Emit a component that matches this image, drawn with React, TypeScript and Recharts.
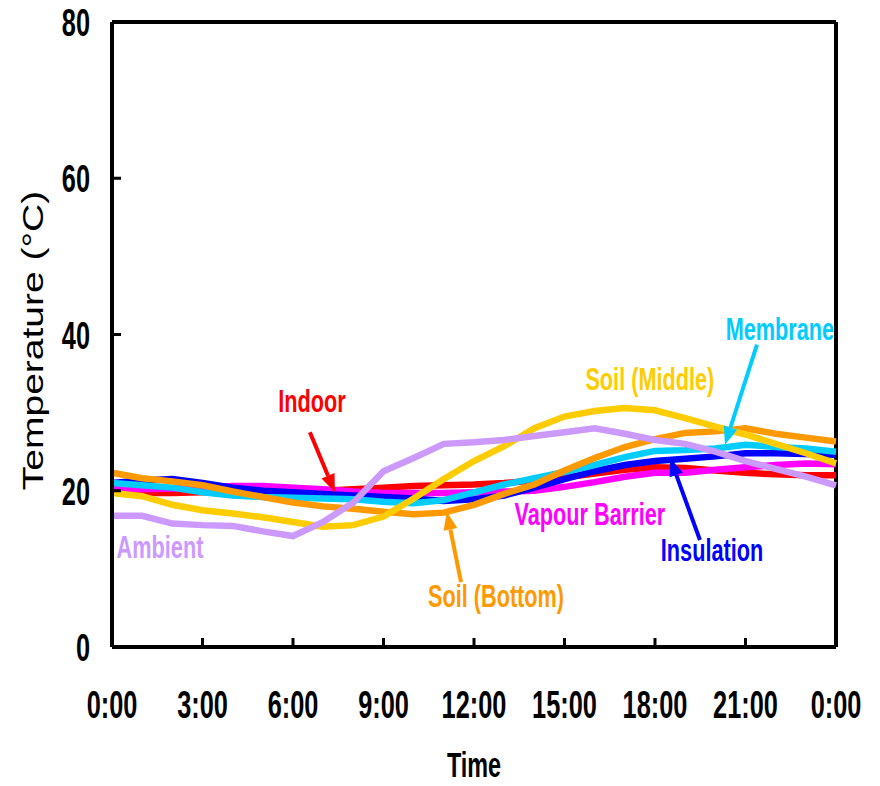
import React from 'react';
import { LineChart, Line, XAxis, YAxis, ReferenceLine, ReferenceDot } from 'recharts';

const hours = [0,1,2,3,4,5,6,7,8,9,10,11,12,13,14,15,16,17,18,19,20,21,22,23,24];
const xTicks = [0,3,6,9,12,15,18,21,24];
const xTickLabels = ['0:00','3:00','6:00','9:00','12:00','15:00','18:00','21:00','0:00'];
const yTicks = [0,20,40,60,80];

const indoor = [19.8,19.7,19.7,19.8,19.8,19.8,19.9,20.0,20.2,20.4,20.6,20.7,20.8,21.0,21.3,21.7,22.2,22.7,23.0,22.9,22.6,22.3,22.1,22.0,22.0];
const vapourBarrier = [20.2,20.2,20.3,20.4,20.6,20.6,20.4,20.2,19.9,19.7,19.7,19.7,19.8,19.9,20.0,20.5,21.1,21.8,22.3,22.3,22.7,23.0,23.3,23.5,23.4];
const insulation = [21.0,21.3,21.5,21.0,20.4,20.0,19.8,19.6,19.4,19.2,19.0,18.7,18.9,19.4,20.4,21.5,22.5,23.3,23.8,24.1,24.4,24.8,24.8,24.7,24.6];
const membrane = [21.0,20.7,20.4,19.8,19.4,19.2,19.1,19.0,18.9,18.6,18.4,18.8,19.8,20.8,21.6,22.4,23.3,24.3,25.1,25.2,25.4,25.9,25.6,25.4,25.0];
const soilBottom = [22.3,21.6,21.2,20.7,19.9,19.2,18.5,18.0,17.7,17.3,17.0,17.2,18.2,19.6,20.8,22.6,24.2,25.6,26.6,27.4,27.6,28.0,27.3,26.8,26.3];
const soilMiddle = [19.7,19.3,18.2,17.5,17.1,16.6,16.0,15.4,15.6,16.7,19.0,21.5,23.8,25.7,28.0,29.5,30.2,30.6,30.3,29.3,28.2,27.2,26.0,24.8,23.5];
const ambient = [16.8,16.8,15.8,15.6,15.5,14.8,14.2,16.0,18.5,22.5,24.2,26.0,26.2,26.5,27.0,27.5,28.0,27.3,26.5,26.0,25.0,23.8,22.8,21.8,20.7];

const data = hours.map((h, i) => ({
  h,
  indoor: indoor[i],
  vapour: vapourBarrier[i],
  insulation: insulation[i],
  membrane: membrane[i],
  soilBottom: soilBottom[i],
  soilMiddle: soilMiddle[i],
  ambient: ambient[i],
}));

const C = {
  indoor: '#FF0000',
  vapour: '#FF00FF',
  insulation: '#0000FF',
  membrane: '#00CCFF',
  soilBottom: '#FF9900',
  soilMiddle: '#FFCC00',
  ambient: '#CC99FF',
};

const FONT = "'Liberation Sans', Arial, sans-serif";

const labels = [
  { text: 'Indoor', x: 6.63, y: 31.4, color: C.indoor },
  { text: 'Soil (Middle)', x: 17.83, y: 34.2, color: C.soilMiddle },
  { text: 'Membrane', x: 22.14, y: 40.6, color: C.membrane },
  { text: 'Vapour Barrier', x: 15.84, y: 16.9, color: C.vapour },
  { text: 'Insulation', x: 19.89, y: 12.4, color: C.insulation },
  { text: 'Soil (Bottom)', x: 12.73, y: 6.4, color: C.soilBottom },
  { text: 'Ambient', x: 1.59, y: 12.7, color: C.ambient },
];

const arrows = [
  { from: { x: 6.56, y: 27.5 }, to: { x: 7.39, y: 19.8 }, color: C.indoor },
  { from: { x: 21.38, y: 38.7 }, to: { x: 20.32, y: 25.9 }, color: C.membrane },
  { from: { x: 19.49, y: 13.7 }, to: { x: 18.5, y: 24.2 }, color: C.insulation },
  { from: { x: 11.57, y: 8.3 }, to: { x: 11.1, y: 17.3 }, color: C.soilBottom },
];

const SText = ({ x, y, sx = 0.65, anchor = 'middle', size = 39, weight = 'bold', fill = '#000', baseline = 'auto', children }: any) => (
  <text transform={`translate(${x},${y}) scale(${sx},1)`} x={0} y={0} textAnchor={anchor}
    dominantBaseline={baseline} fill={fill} fontFamily={FONT} fontWeight={weight} fontSize={size}>{children}</text>
);

const makeArrow = (color: string) => (props: any) => {
  const { x1, y1, x2, y2 } = props;
  const ang = Math.atan2(y2 - y1, x2 - x1);
  const len = 18;
  const w = 7;
  const bx = x2 - len * Math.cos(ang);
  const by = y2 - len * Math.sin(ang);
  const px = -Math.sin(ang) * w;
  const py = Math.cos(ang) * w;
  return (
    <g>
      <line x1={x1} y1={y1} x2={bx} y2={by} stroke={color} strokeWidth={4} />
      <polygon points={`${x2},${y2} ${bx + px},${by + py} ${bx - px},${by - py}`} fill={color} />
    </g>
  );
};

const makeText = (text: string, color: string) => (props: any) => (
  <SText x={props.cx} y={props.cy} sx={0.7} size={31} fill={color} baseline="central">{text}</SText>
);

const XTick = (props: any) => {
  const { x, y, payload } = props;
  return <SText x={x} y={y + 24}>{xTickLabels[xTicks.indexOf(payload.value)]}</SText>;
};

const YTick = (props: any) => {
  const { x, y, payload } = props;
  return <SText x={x} y={y + 14} anchor="end">{String(payload.value)}</SText>;
};

const XTitle = (props: any) => {
  const vb = props.viewBox;
  return <SText x={vb.x + vb.width / 2} y={vb.y + 130} size={36}>Time</SText>;
};

const YTitle = (props: any) => {
  const vb = props.viewBox;
  const cx = 33;
  const cy = vb.y + vb.height / 2 + 6;
  return (
    <text transform={`translate(${cx},${cy}) scale(1,1.3) rotate(-90)`} x={0} y={0}
      textAnchor="middle" dominantBaseline="central" fill="#000" fontFamily={FONT} fontSize={30}>
      Temperature (°C)
    </text>
  );
};

export default function App() {
  return (
    <div style={{ position: 'absolute', left: 0, top: 0, width: 880, height: 786, background: '#fff' }}>
      <LineChart width={880} height={786} data={data} margin={{ top: 22, right: 44, left: 0, bottom: 0 }}>
        <XAxis
          dataKey="h" type="number" domain={[0, 24]} ticks={xTicks}
          height={139}
          axisLine={{ stroke: '#000', strokeWidth: 4 }}
          tickLine={{ stroke: '#000', strokeWidth: 3 }}
          tickSize={-9}
          tickMargin={56}
          tick={<XTick />}
          label={<XTitle />}
        />
        <YAxis
          type="number" domain={[0, 80]} ticks={yTicks} width={112}
          axisLine={{ stroke: '#000', strokeWidth: 4 }}
          tickLine={{ stroke: '#000', strokeWidth: 3 }}
          tickSize={-9}
          tickMargin={31}
          tick={<YTick />}
          label={<YTitle />}
        />
        <ReferenceLine y={80} stroke="#000" strokeWidth={4} />
        <ReferenceLine x={24} stroke="#000" strokeWidth={4} />
        <Line dataKey="indoor" stroke={C.indoor} strokeWidth={6.5} dot={false} isAnimationActive={false} />
        <Line dataKey="vapour" stroke={C.vapour} strokeWidth={6.5} dot={false} isAnimationActive={false} />
        <Line dataKey="insulation" stroke={C.insulation} strokeWidth={6.5} dot={false} isAnimationActive={false} />
        <Line dataKey="membrane" stroke={C.membrane} strokeWidth={6.5} dot={false} isAnimationActive={false} />
        <Line dataKey="soilBottom" stroke={C.soilBottom} strokeWidth={6.5} dot={false} isAnimationActive={false} />
        <Line dataKey="soilMiddle" stroke={C.soilMiddle} strokeWidth={6.5} dot={false} isAnimationActive={false} />
        <Line dataKey="ambient" stroke={C.ambient} strokeWidth={6.5} dot={false} isAnimationActive={false} />
        {arrows.map((a, i) => (
          <ReferenceLine key={'a' + i} segment={[a.from, a.to]} shape={makeArrow(a.color)} ifOverflow="visible" />
        ))}
        {labels.map((l, i) => (
          <ReferenceDot key={'l' + i} x={l.x} y={l.y} r={0} shape={makeText(l.text, l.color)} ifOverflow="visible" />
        ))}
      </LineChart>
    </div>
  );
}
